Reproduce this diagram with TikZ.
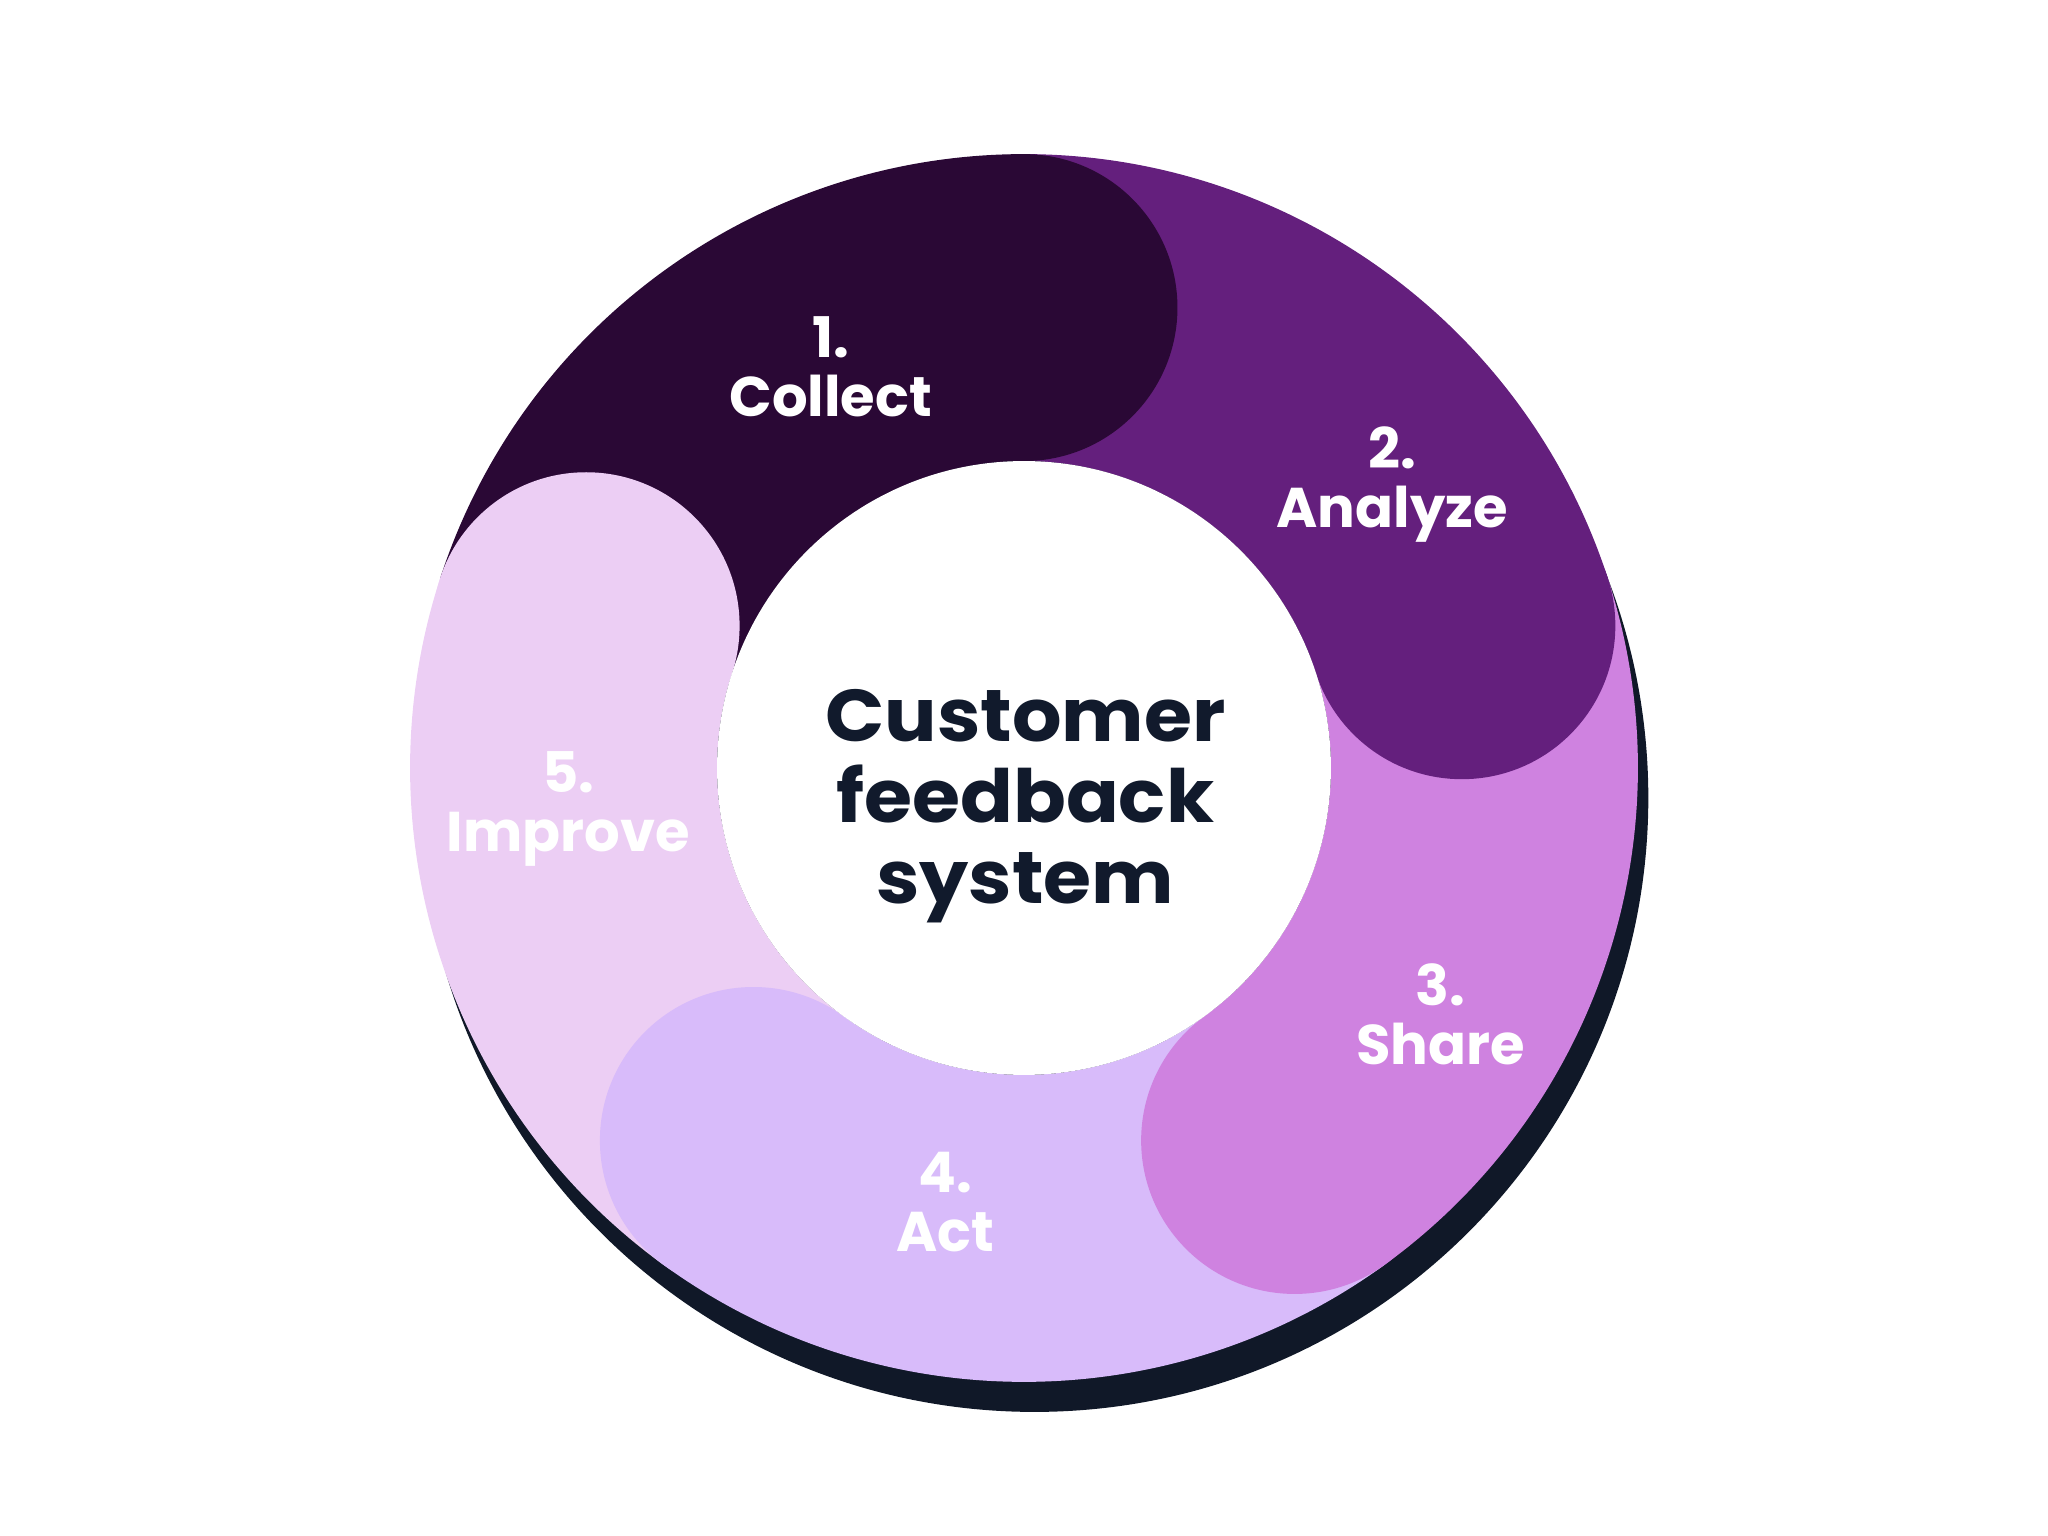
\documentclass[tikz,border=0pt]{standalone}
\usepackage{fontspec}
\setmainfont{Poppins}
\usetikzlibrary{calc}
\definecolor{cCollect}{HTML}{2A0835}
\definecolor{cAnalyze}{HTML}{641F7D}
\definecolor{cShare}{HTML}{CF82E0}
\definecolor{cAct}{HTML}{D8BBFA}
\definecolor{cImprove}{HTML}{ECCEF4}
\definecolor{cShadow}{HTML}{101828}
\definecolor{cText}{HTML}{111A2C}
\tikzset{
  steplabel/.style={anchor=base, align=center, text=white, inner sep=0pt,
    font=\fontsize{12.2}{12.8}\selectfont\bfseries},
  centertitle/.style={anchor=base, align=center, text=cText, inner sep=0pt,
    xscale=1.06, transform shape,
    font=\fontsize{16}{17.7}\selectfont\bfseries}
}
\begin{document}
\begin{tikzpicture}[x=0.1mm,y=0.1mm]
\useasboundingbox (0,0) rectangle (1568,1176);
\coordinate (C) at (784,588);
% shadow
\fill[cShadow] (792,565) circle[radius=470];
% sectors
\foreach \a/\b/\col in {162/90/cCollect, 90/18/cAnalyze, 18/-54/cShare, -54/-126/cAct, -126/-198/cImprove}{
  \fill[\col] ($(C)+(\a:470)$) arc[start angle=\a, end angle=\b, radius=470]
     -- ($(C)+(\b:235)$) arc[start angle=\b, end angle=\a, radius=235] -- cycle;
}
% rounded caps
\foreach \b/\col in {90/cCollect, 18/cAnalyze, -54/cShare, -126/cAct, 162/cImprove}{
  \fill[\col] ($(C)+(\b:352.5)$) circle[radius=117.5];
}
% centre hole
\fill[white] (C) circle[radius=235];
% labels
\node[steplabel] (l1) at (636,857) {1.\\Collect};
\node[steplabel] (l2) at (1066,772) {2.\\Analyze};
\node[steplabel] (l3) at (1103,361) {3.\\Share};
\node[steplabel] (l4) at (724,218) {4.\\Act};
\node[steplabel] (l5) at (435,524) {5.\\Improve};
\node[centertitle] (title) at (785,484) {Customer\\feedback\\system};
\end{tikzpicture}
\end{document}
